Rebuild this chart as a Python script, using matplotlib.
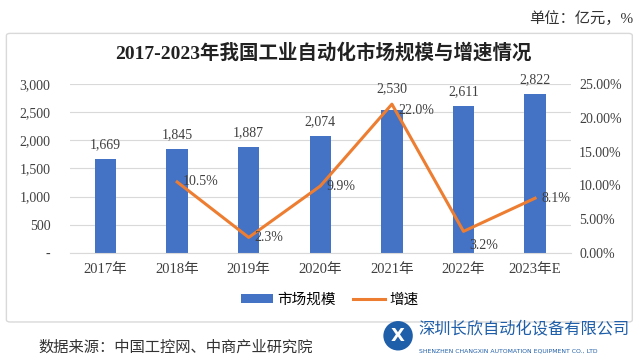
import matplotlib.pyplot as plt
from matplotlib.patches import FancyBboxPatch, Ellipse
from matplotlib.ticker import FuncFormatter

plt.rcParams['font.family'] = ['Liberation Serif', 'Noto Sans CJK SC']

years = ['2017年', '2018年', '2019年', '2020年', '2021年', '2022年', '2023年E']
market = [1669, 1845, 1887, 2074, 2530, 2611, 2822]
growth = [None, 10.5, 2.3, 9.9, 22.0, 3.2, 8.1]

bar_color = '#4472C4'
line_color = '#ED7D31'

fig = plt.figure(figsize=(6.4, 3.63), dpi=100)

# outer frame
box = FancyBboxPatch((0.01, 0.113), 0.978, 0.795, boxstyle='round,pad=0,rounding_size=0.006',
                     transform=fig.transFigure, facecolor='white', edgecolor='#d9d9d9', lw=1.0,
                     zorder=-10)
fig.patches.append(box)

ax = fig.add_axes([0.109, 0.303, 0.783, 0.466])
ax.set_facecolor('none')
x = list(range(len(years)))
bars = ax.bar(x, market, width=0.3, color=bar_color, label='市场规模', zorder=2)
ax.set_xlim(-0.5, len(years) - 0.5)
ax.set_ylim(0, 3000)
ax.set_yticks(range(0, 3001, 500))
ax.yaxis.set_major_formatter(FuncFormatter(lambda v, p: '-' if v == 0 else f'{int(v):,}'))
ax.set_xticks(x)
ax.set_xticklabels(years, fontsize=10.5)
ax.tick_params(axis='both', length=0, labelsize=10, colors='#404040')
ax.tick_params(axis='x', pad=7, labelsize=10.5)
ax.tick_params(axis='y', pad=14)
ax.grid(axis='y', color='#d9d9d9', lw=0.8, zorder=0)
for s in ['top', 'right', 'left']:
    ax.spines[s].set_visible(False)
ax.spines['bottom'].set_color('#d9d9d9')

bar_off = [14, 14, 14, 14, 22, 14, 14]
for i, v in enumerate(market):
    ax.annotate(f'{v:,}', (i, v), xytext=(0, bar_off[i]), textcoords='offset pixels',
                ha='center', va='center', fontsize=10, color='#404040')

ax2 = ax.twinx()
gx = [i for i, g in enumerate(growth) if g is not None]
gy = [g for g in growth if g is not None]
ax2.plot(gx, gy, color=line_color, lw=2.2, label='增速', zorder=3)
ax2.set_ylim(0, 25)
ax2.set_yticks(range(0, 26, 5))
ax2.yaxis.set_major_formatter(FuncFormatter(lambda v, p: f'{v:.2f}%'))
ax2.tick_params(axis='y', length=0, labelsize=10, colors='#404040', pad=6)
for s in ['top', 'right', 'left', 'bottom']:
    ax2.spines[s].set_visible(False)

line_off = [(6, 0), (6, 0), (6, 0), (6, -6), (6, -14), (6, 0)]
for (xi, yi), (dx, dy) in zip(zip(gx, gy), line_off):
    ax2.annotate(f'{yi:.1f}%', (xi, yi), xytext=(dx, dy), textcoords='offset pixels',
                 ha='left', va='center', fontsize=10, color='#404040')

h1, l1 = ax.get_legend_handles_labels()
h2, l2 = ax2.get_legend_handles_labels()
fig.legend(h1 + h2, l1 + l2, loc='center', bbox_to_anchor=(0.515, 0.174), ncol=2,
           frameon=False, fontsize=10.5, handlelength=2.2, handleheight=0.5,
           columnspacing=1.2, handletextpad=0.3)

fig.text(0.505, 0.855, '2017-2023年我国工业自动化市场规模与增速情况', ha='center', va='center',
         fontsize=14, fontweight='bold', color='#222222')
fig.text(0.99, 0.95, '单位：亿元，%', ha='right', va='center', fontsize=11, color='#333333')
fig.text(0.06, 0.044, '数据来源：中国工控网、中商产业研究院', ha='left', va='center',
         fontsize=11, color='#333333')

# company logo watermark
logo_blue = '#1f5ea8'
fig.patches.append(Ellipse((0.622, 0.075), 0.046, 0.046 * 640 / 363, transform=fig.transFigure,
                           facecolor=logo_blue, edgecolor='none'))
fig.text(0.622, 0.075, 'X', ha='center', va='center', fontsize=13, fontweight='bold',
         color='white', family='DejaVu Sans')
fig.text(0.653, 0.093, '深圳长欣自动化设备有限公司', ha='left', va='center', fontsize=11.7,
         color=logo_blue, family='Noto Sans CJK SC')
fig.text(0.655, 0.033, 'SHENZHEN CHANGXIN AUTOMATION EQUIPMENT CO., LTD', ha='left', va='center',
         fontsize=4.4, color=logo_blue, family='DejaVu Sans')

fig.savefig('out.png', dpi=100, facecolor='white')
